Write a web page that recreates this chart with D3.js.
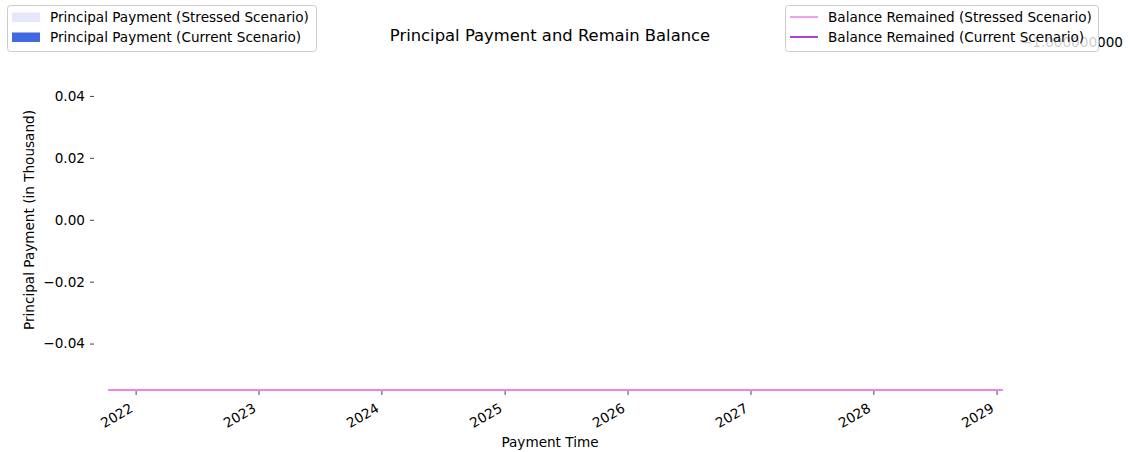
<!DOCTYPE html>
<meta charset="utf-8">
<script src="https://d3js.org/d3.v7.min.js"></script>
<head>
<style>
  body { margin: 0; background: #fff; }
  text { font-family: "DejaVu Sans", sans-serif; fill: #000; }
</style>
</head>
<body>
<div id="my_dataviz"></div>
<script>
// payment schedule (every payment shows as zero)
var paymentDates = ["2022-01-01", "2023-01-01", "2024-01-01", "2025-01-01", "2026-01-01", "2027-01-01", "2028-01-01", "2029-01-01"];
var principalStressed = [0, 0, 0, 0, 0, 0, 0, 0];
var principalCurrent = [0, 0, 0, 0, 0, 0, 0, 0];

// remaining balance, flat along the bottom of the chart
var balanceDates = ["2021-10-11", "2022-01-01", "2023-01-01", "2024-01-01", "2025-01-01", "2026-01-01", "2027-01-01", "2028-01-01", "2029-01-01", "2029-01-20"];
var balanceStressed = [0, 0, 0, 0, 0, 0, 0, 0, 0, 0];
var balanceCurrent = [0, 0, 0, 0, 0, 0, 0, 0, 0, 0];

var yTicks = [0.04, 0.02, 0.00, -0.02, -0.04];
var yearTicks = ["2022", "2023", "2024", "2025", "2026", "2027", "2028", "2029"];

var W = 1131, H = 452;
var margin = {top: 49.5, right: 128, bottom: 62, left: 108};
var width = W - margin.left - margin.right,
    height = H - margin.top - margin.bottom;
var fs = "13.6px";

var parse = d3.timeParse("%Y-%m-%d");

var svg = d3.select("#my_dataviz")
  .append("svg")
    .attr("width", W)
    .attr("height", H);

var g = svg.append("g")
    .attr("transform", "translate(" + margin.left + "," + margin.top + ")");

var x = d3.scaleTime()
  .domain(d3.extent(balanceDates, parse))
  .range([0, width]);

var y = d3.scaleLinear()
  .domain([-0.055, 0.055])
  .range([height, 0]);

var y2 = d3.scaleLinear()
  .domain([0, 1])
  .range([height, 0]);

// bars (zero height)
var barW = 8;
g.append("g").selectAll("rect.s")
  .data(paymentDates)
  .enter().append("rect")
    .attr("x", function(d) { return x(parse(d)) - barW / 2; })
    .attr("y", function(d, i) { return y(Math.max(0, principalStressed[i])); })
    .attr("width", barW)
    .attr("height", function(d, i) { return Math.abs(y(principalStressed[i]) - y(0)); })
    .style("fill", "lavender");
g.append("g").selectAll("rect.c")
  .data(paymentDates)
  .enter().append("rect")
    .attr("x", function(d) { return x(parse(d)) - barW / 2; })
    .attr("y", function(d, i) { return y(Math.max(0, principalCurrent[i])); })
    .attr("width", barW)
    .attr("height", function(d, i) { return Math.abs(y(principalCurrent[i]) - y(0)); })
    .style("fill", "royalblue");

// y axis (spine hidden, offset to the left)
var yAxis = g.append("g")
  .attr("transform", "translate(-14,0)")
  .call(d3.axisLeft(y).tickValues(yTicks).tickSize(4).tickPadding(5)
    .tickFormat(function(d) { return d3.format(".2f")(d).replace("-", "\u2212"); }));
yAxis.select(".domain").remove();
yAxis.selectAll("line").attr("stroke", "#444");
yAxis.selectAll("text").style("font-size", fs).style("font-family", "DejaVu Sans");

// x axis
var xAxis = g.append("g")
  .attr("transform", "translate(0," + (height + 1) + ")")
  .call(d3.axisBottom(x).tickValues(yearTicks.map(function(d) { return parse(d + "-01-01"); }))
    .tickSize(4).tickFormat(d3.timeFormat("%Y")));
xAxis.select(".domain").remove();
xAxis.selectAll("line").attr("stroke", "#444");
xAxis.selectAll("text")
  .style("font-size", fs)
  .style("font-family", "DejaVu Sans")
  .attr("text-anchor", "end")
  .attr("y", 0)
  .attr("dy", null)
  .attr("transform", "translate(-2,20) rotate(-30)");

// balance lines
var line = function(vals) {
  return d3.line()
    .x(function(d) { return x(parse(d)); })
    .y(function(d, i) { return y2(vals[i]); })(balanceDates);
};
g.append("path").attr("d", line(balanceCurrent))
  .attr("fill", "none").attr("stroke", "darkviolet").attr("stroke-width", 1.5);
g.append("path").attr("d", line(balanceStressed))
  .attr("fill", "none").attr("stroke", "violet").attr("stroke-width", 2);

// labels
svg.append("text")
  .attr("x", 550).attr("y", 41)
  .attr("text-anchor", "middle")
  .style("font-size", "16.4px")
  .text("Principal Payment and Remain Balance");

svg.append("text")
  .attr("x", 550).attr("y", 447)
  .attr("text-anchor", "middle")
  .style("font-size", fs)
  .text("Payment Time");

svg.append("text")
  .attr("transform", "translate(34,220) rotate(-90)")
  .attr("text-anchor", "middle")
  .style("font-size", fs)
  .text("Principal Payment (in Thousand)");

// offset text of the balance axis (partly under the legend)
svg.append("text")
  .attr("x", 1123).attr("y", 47)
  .attr("text-anchor", "end")
  .style("font-size", fs)
  .text("\u22121.000000000");

// legends
function legend(x0, w, items) {
  var lg = svg.append("g");
  lg.append("rect")
    .attr("x", x0 + 0.5).attr("y", 5.5).attr("width", w).attr("height", 46)
    .attr("rx", 3)
    .attr("fill", "rgba(255,255,255,0.8)")
    .attr("stroke", "#ccc");
  items.forEach(function(it, i) {
    var cy = 17 + i * 20;
    if (it.type === "patch") {
      lg.append("rect").attr("x", x0 + 5).attr("y", cy - 4.5).attr("width", 28).attr("height", 9.5)
        .attr("fill", it.color);
    } else {
      lg.append("line").attr("x1", x0 + 5).attr("x2", x0 + 33).attr("y1", cy).attr("y2", cy)
        .attr("stroke", it.color).attr("stroke-width", 1.5);
    }
    lg.append("text").attr("x", x0 + 43).attr("y", cy + 5)
      .style("font-size", fs).text(it.label);
  });
}
legend(7, 309, [
  {type: "patch", color: "lavender", label: "Principal Payment (Stressed Scenario)"},
  {type: "patch", color: "royalblue", label: "Principal Payment (Current Scenario)"}
]);
legend(785, 313, [
  {type: "line", color: "violet", label: "Balance Remained (Stressed Scenario)"},
  {type: "line", color: "darkviolet", label: "Balance Remained (Current Scenario)"}
]);
</script>
</body>
